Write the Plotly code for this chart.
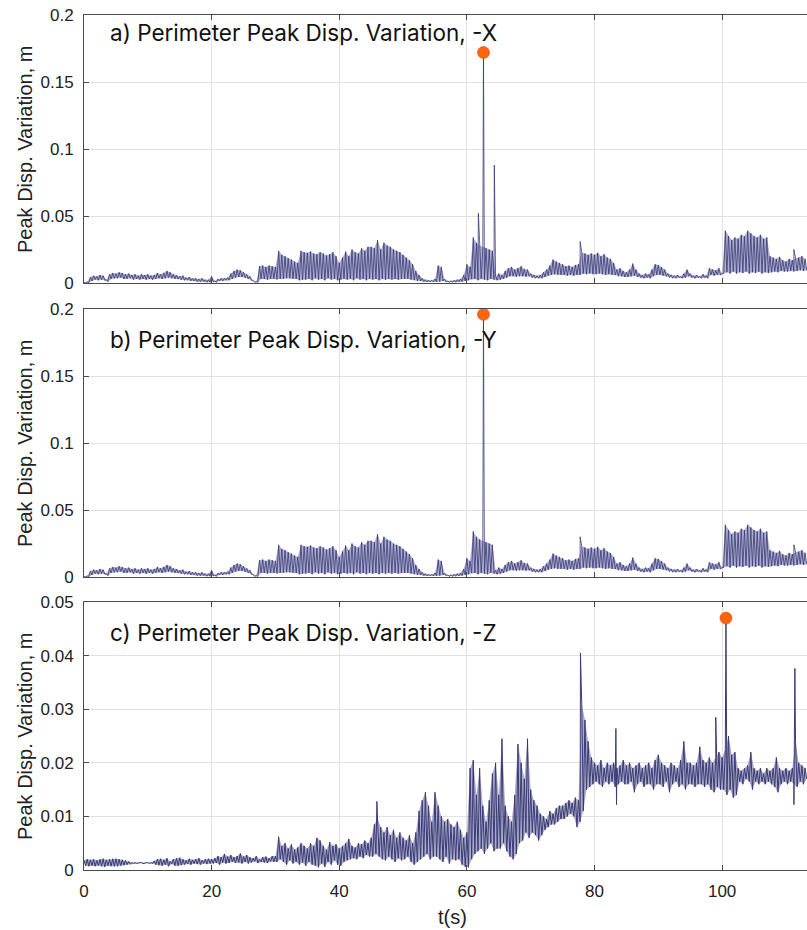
import numpy as np
import plotly.graph_objects as go

# sample grid (s): band maximum at t, band minimum at t + 0.25
T = np.round(np.arange(0, 113.001, 0.5), 2)

# ---- panel a (-X), values in mm ----
A_HI = [0.3, 0.8, 4.5, 5.5, 5.0, 6.0, 5.5, 2.5, 6.5, 7.5,
        7.0, 8.0, 7.5, 6.5, 7.0, 6.0, 6.5, 5.5, 6.5, 6.0,
        6.5, 5.5, 6.0, 7.5, 6.5, 7.5, 9.0, 8.0, 6.5, 6.0,
        5.0, 5.5, 4.0, 4.5, 3.5, 3.5, 3.0, 3.5, 2.5, 2.5,
        5.0, 1.5, 3.0, 3.5, 3.5, 4.0, 7.0, 9.0, 10.0, 9.5,
        8.0, 6.5, 5.0, 2.0, 1.0, 12.5, 13.0, 12.0, 13.0, 12.5,
        12.0, 24.0, 21.0, 20.0, 18.5, 17.5, 16.0, 15.0, 24.0, 23.0,
        22.5, 23.5, 22.0, 21.5, 23.0, 22.0, 20.5, 21.5, 23.0, 20.0,
        15.0, 19.0, 23.5, 20.0, 25.0, 23.0, 22.0, 26.0, 24.0, 27.0,
        27.0, 26.0, 32.0, 25.0, 30.0, 28.0, 27.0, 25.0, 24.0, 23.0,
        21.0, 19.0, 17.0, 14.0, 9.0, 6.0, 3.5, 2.5, 2.0, 2.0,
        3.0, 13.0, 12.0, 3.0, 1.5, 1.5, 2.0, 2.5, 3.0, 6.0,
        14.0, 12.0, 34.0, 30.0, 28.0, 27.0, 26.0, 25.0, 24.0, 5.0,
        7.0, 6.0, 9.0, 11.0, 12.0, 10.0, 11.0, 12.5, 10.5, 10.0,
        7.0, 6.0, 5.5, 6.0, 8.0, 10.0, 13.0, 17.5, 16.0, 15.0,
        14.0, 12.5, 13.0, 12.0, 13.5, 14.0, 23.0, 22.0, 21.0, 22.0,
        21.0, 22.5, 20.0, 21.5, 19.0, 18.0, 15.0, 10.0, 11.0, 9.0,
        8.0, 10.0, 14.5, 10.0, 7.0, 6.0, 7.0, 6.5, 10.0, 14.0,
        13.5, 12.0, 10.0, 7.0, 6.0, 5.5, 6.0, 5.0, 7.0, 10.0,
        7.0, 5.5, 6.0, 5.0, 6.5, 5.5, 11.0, 10.0, 9.5, 11.0,
        7.0, 39.0, 35.0, 32.0, 34.0, 33.0, 36.0, 35.0, 39.0, 37.0,
        35.0, 34.0, 36.0, 33.0, 34.0, 20.0, 19.0, 18.0, 19.5, 17.0,
        16.0, 18.0, 17.0, 18.5, 19.0, 20.0, 18.0]
A_LO = [0.0, 0.2, 1.5, 2.5, 2.0, 2.5, 2.0, 1.0, 3.0, 3.5,
        3.5, 4.0, 3.0, 3.0, 3.5, 2.5, 3.0, 2.5, 3.0, 2.5,
        3.0, 2.5, 3.0, 3.5, 3.0, 3.5, 4.0, 3.5, 3.0, 3.0,
        2.5, 2.0, 2.0, 1.5, 1.5, 1.0, 1.0, 1.0, 0.5, 0.5,
        1.0, 0.5, 1.5, 1.5, 2.0, 2.0, 3.0, 4.0, 4.5, 4.5,
        4.0, 3.0, 2.0, 0.5, 0.5, 3.0, 3.0, 2.5, 3.0, 3.0,
        2.5, 3.0, 3.0, 3.5, 3.5, 3.0, 3.0, 2.0, 2.5, 2.5,
        3.0, 2.0, 3.5, 2.5, 3.0, 2.0, 3.5, 2.5, 3.0, 2.0,
        2.5, 3.0, 2.5, 3.0, 2.0, 3.5, 2.5, 3.0, 2.0, 3.0,
        2.5, 3.0, 2.0, 3.0, 2.5, 3.0, 2.5, 3.0, 2.5, 3.0,
        3.0, 3.0, 2.5, 2.0, 1.5, 1.5, 1.0, 0.8, 0.8, 0.8,
        0.8, 1.0, 1.5, 0.8, 0.5, 0.5, 0.5, 0.8, 1.0, 1.5,
        2.0, 3.0, 3.0, 2.0, 3.0, 2.5, 2.0, 3.0, 2.5, 2.0,
        2.5, 3.0, 4.0, 5.0, 5.0, 4.5, 5.0, 5.0, 4.5, 5.0,
        4.0, 3.5, 3.5, 3.5, 4.5, 5.5, 6.0, 6.5, 6.0, 6.0,
        6.0, 5.5, 6.0, 5.5, 6.0, 6.0, 7.0, 6.5, 7.0, 6.5,
        6.5, 7.0, 6.5, 6.0, 6.5, 6.0, 6.0, 5.0, 5.0, 4.5,
        4.5, 5.0, 5.5, 4.5, 4.0, 3.5, 4.0, 3.5, 5.0, 6.0,
        6.0, 5.5, 5.0, 4.0, 3.5, 3.5, 4.0, 3.5, 4.0, 5.0,
        4.0, 3.5, 4.0, 3.5, 4.0, 3.5, 6.0, 5.5, 6.0, 6.0,
        7.0, 8.0, 7.0, 8.5, 7.0, 8.0, 7.5, 8.5, 7.0, 8.0,
        7.5, 8.5, 7.0, 8.0, 7.5, 8.0, 8.5, 8.0, 9.0, 8.5,
        8.5, 9.0, 8.5, 9.0, 9.5, 9.0, 9.5]
A_SPIKE_T = [61.8, 62.6, 64.3, 77.75, 111.25]
A_SPIKE_V = [52.0, 172.0, 88.0, 31.0, 25.0]

# ---- panel b (-Y): the band reads the same as panel a; spikes differ ----
B_HI = list(A_HI)
B_LO = list(A_LO)
B_SPIKE_T = [62.6, 77.75, 111.25]
B_SPIKE_V = [196.0, 30.0, 24.0]

# ---- panel c (-Z), values in mm ----
C_HI = [1.8, 2.0, 1.9, 2.0, 1.8, 2.0, 2.1, 1.9, 2.0, 2.1,
        2.1, 2.0, 1.9, 1.8, 1.6, 1.4, 1.4, 1.3, 1.4, 1.3,
        1.4, 1.4, 1.7, 2.0, 2.1, 1.9, 2.2, 1.6, 2.0, 2.2,
        2.3, 2.0, 1.8, 2.1, 1.9, 2.0, 2.2, 1.8, 2.0, 2.1,
        2.0, 2.2, 2.6, 2.4, 3.0, 2.5, 2.8, 2.4, 2.6, 3.1,
        2.5, 2.8, 2.4, 2.2, 2.6, 2.0, 2.4, 2.5, 2.2, 2.6,
        2.6, 6.2, 4.5, 5.0, 4.0, 4.8, 3.8, 4.2, 5.0, 4.5,
        4.0, 5.0, 4.5, 6.0, 5.5, 4.5, 3.8, 5.2, 4.5, 4.8,
        4.0, 4.5, 5.0, 5.8, 4.5, 4.2, 5.0, 4.8, 5.5, 5.0,
        6.0, 8.5, 9.5, 8.0, 7.0, 8.0, 6.5, 7.5, 6.0, 7.0,
        6.0, 5.5, 6.5, 5.0, 7.0, 11.0, 13.0, 14.5, 12.0, 9.0,
        14.5, 12.0, 10.0, 9.0, 9.5, 8.5, 8.0, 9.0, 7.5, 6.0,
        7.0, 19.0, 20.5, 14.0, 19.0, 12.0, 9.0, 13.0, 18.0, 20.0,
        14.0, 24.5, 12.0, 10.0, 9.0, 14.0, 23.5, 20.0, 17.0, 24.5,
        15.0, 13.0, 12.0, 10.5, 10.0, 9.5, 11.0, 10.5, 11.5, 12.0,
        12.0, 12.5, 13.0, 12.5, 13.5, 13.0, 31.0, 28.0, 24.0, 21.0,
        20.0, 19.5, 20.5, 19.0, 20.0, 19.5, 20.0, 19.0, 19.5, 20.5,
        19.5, 20.0, 19.0, 19.5, 20.0, 19.0, 19.5, 20.0, 19.0, 20.5,
        21.5, 20.0, 19.5, 19.0, 20.0, 19.5, 19.0, 20.5, 24.0, 20.0,
        20.0, 19.5, 20.0, 23.0, 20.5, 20.0, 21.0, 20.0, 21.0, 22.0,
        21.0, 22.5, 25.0, 21.5, 22.0, 19.0, 18.5, 19.0, 19.5, 22.0,
        19.0, 18.5, 19.0, 18.0, 19.0, 18.5, 19.0, 21.0, 19.0, 18.5,
        19.0, 18.5, 19.0, 24.0, 20.0, 19.5, 19.0]
C_LO = [0.8, 0.7, 0.8, 0.7, 0.8, 0.7, 0.6, 0.8, 0.7, 0.7,
        0.7, 0.8, 0.9, 1.0, 1.1, 1.2, 1.2, 1.3, 1.2, 1.3,
        1.2, 1.2, 1.0, 0.9, 0.8, 1.0, 0.7, 1.1, 0.8, 0.8,
        0.9, 1.0, 1.1, 1.0, 1.2, 1.1, 1.0, 1.2, 1.1, 1.2,
        1.2, 1.3, 1.0, 1.4, 1.2, 1.3, 1.5, 1.3, 1.4, 1.2,
        1.5, 1.2, 1.4, 1.6, 1.3, 1.5, 1.4, 1.3, 1.6, 1.5,
        1.5, 2.0, 1.5, 1.0, 1.8, 1.2, 1.5, 1.0, 1.4, 0.8,
        1.5, 1.0, 0.8, 0.5, 1.2, 0.6, 1.5, 1.0, 1.8, 1.0,
        0.8, 1.5, 1.8, 2.0, 2.2, 2.0, 2.5, 2.2, 2.8, 2.5,
        2.5, 3.0, 2.5, 2.0, 1.8, 2.5, 2.0, 1.5, 2.2, 1.8,
        2.0, 2.5, 1.5, 1.0, 1.5, 2.0, 2.5, 3.0, 2.0, 2.5,
        2.5, 2.0, 1.5, 2.5, 1.2, 2.0, 1.8, 2.0, 1.0, 0.6,
        0.5, 2.0, 3.0, 3.5, 4.0, 3.0, 4.0, 5.0, 3.5, 4.0,
        4.0, 5.0, 3.5, 2.5, 2.0, 3.0, 5.0, 5.5, 7.0, 6.0,
        7.0, 6.5, 5.5, 6.5, 7.5, 8.0, 8.5, 8.5, 9.0, 9.5,
        9.5, 10.0, 10.5, 10.0, 8.0, 9.0, 11.0, 15.0, 15.5, 16.0,
        16.5, 16.0, 15.5, 16.5, 16.0, 16.5, 15.5, 16.0, 16.5, 16.0,
        16.0, 16.5, 14.5, 16.0, 16.5, 15.5, 16.0, 16.0, 15.0, 16.0,
        16.0, 15.5, 16.5, 14.5, 16.0, 16.5, 15.5, 16.0, 15.0, 16.0,
        16.0, 15.5, 16.0, 16.0, 15.5, 16.0, 15.0, 14.5, 15.5, 15.0,
        15.0, 14.0, 15.0, 13.5, 14.0, 16.5, 16.0, 17.0, 16.5, 15.0,
        16.5, 16.0, 16.5, 16.0, 16.5, 16.0, 15.5, 14.5, 16.0, 16.5,
        16.0, 16.5, 16.0, 15.5, 16.5, 16.0, 17.0]
C_SPIKE_T = [45.9, 77.8, 83.35, 83.45, 99.0, 100.6, 111.25, 111.4]
C_SPIKE_V = [12.8, 40.5, 26.4, 12.2, 28.5, 47.0, 12.2, 37.6]

# peak markers (t, value in m)
PEAK_T = [62.6, 62.6, 100.6]
PEAK_V = [0.172, 0.196, 0.047]

TITLES = ["a) Perimeter Peak Disp. Variation, -X",
          "b) Perimeter Peak Disp. Variation, -Y",
          "c) Perimeter Peak Disp. Variation, -Z"]
Y_LABEL = "Peak Disp. Variation, m"
X_LABEL = "t(s)"
X_TICKS = [0, 20, 40, 60, 80, 100]


def build(hi, lo, st, sv):
    assert len(hi) == len(T) and len(lo) == len(T)
    pts = []
    for t, h, l in zip(T, hi, lo):
        pts.append((float(t), h))
        pts.append((float(t) + 0.25, l))
    pts += list(zip(st, sv))
    pts.sort(key=lambda p: p[0])
    return [p[0] for p in pts], [p[1] / 1000.0 for p in pts]


raw = [(A_HI, A_LO, A_SPIKE_T, A_SPIKE_V),
       (B_HI, B_LO, B_SPIKE_T, B_SPIKE_V),
       (C_HI, C_LO, C_SPIKE_T, C_SPIKE_V)]

LINE = "#3a3a76"
FILLS = ["rgba(120,120,176,0.6)", "rgba(120,120,176,0.6)", "rgba(90,90,145,0.5)"]
WIDTHS = [0.8, 0.8, 1.0]
fig = go.Figure()
for i, (hi, lo, st, sv) in enumerate(raw):
    sfx = "" if i == 0 else str(i + 1)
    ax = dict(xaxis="x" + sfx, yaxis="y" + sfx, showlegend=False, hoverinfo="skip")
    # band body between the maxima and minima
    fig.add_trace(go.Scatter(x=list(T), y=[v / 1000.0 for v in hi], mode="lines",
                             line=dict(width=0, color=LINE), **ax))
    fig.add_trace(go.Scatter(x=[float(t) + 0.25 for t in T], y=[v / 1000.0 for v in lo],
                             mode="lines", line=dict(width=0, color=LINE),
                             fill="tonexty", fillcolor=FILLS[i], **ax))
    xs, ys = build(hi, lo, st, sv)
    fig.add_trace(go.Scatter(x=xs, y=ys, mode="lines",
                             line=dict(color=LINE, width=WIDTHS[i]), **ax))
    fig.add_trace(go.Scatter(x=[PEAK_T[i]], y=[PEAK_V[i]], mode="markers",
                             marker=dict(size=12, color="#ff6410",
                                         line=dict(width=0.6, color="#e24e00")),
                             **ax))

# layout in pixels: panels at y 15-283, 309-577, 602-870; plot area 84..807
H_PLOT = 855.0
doms = [[(870 - 283) / H_PLOT, 1.0],
        [(870 - 577) / H_PLOT, (870 - 309) / H_PLOT],
        [0.0, (870 - 602) / H_PLOT]]
yranges = [[0, 0.2], [0, 0.2], [0, 0.05]]
ydticks = [0.05, 0.05, 0.01]

TICKFONT = dict(family="Liberation Sans, Arial, sans-serif", size=17, color="#222222")
layout = dict(width=807, height=930, margin=dict(l=84, r=0, t=15, b=60),
              paper_bgcolor="white", plot_bgcolor="white", showlegend=False)
annotations = []
for i in range(3):
    sfx = "" if i == 0 else str(i + 1)
    layout["xaxis" + sfx] = dict(
        domain=[0, 1], anchor="y" + sfx, range=[0, 113.3],
        tickvals=X_TICKS, showticklabels=(i == 2), ticks="inside", ticklen=5,
        tickcolor="#4a4a4a", showline=True, linecolor="#4a4a4a", linewidth=1,
        mirror="ticks", showgrid=True, gridcolor="#e2e2e2", gridwidth=1,
        zeroline=False, tickfont=TICKFONT, ticklabelstandoff=6)
    layout["yaxis" + sfx] = dict(
        domain=doms[i], anchor="x" + sfx, range=yranges[i], dtick=ydticks[i],
        tick0=0, ticks="inside", ticklen=5, tickcolor="#4a4a4a",
        showline=True, linecolor="#4a4a4a", linewidth=1, mirror=False,
        showgrid=True, gridcolor="#e2e2e2", gridwidth=1, zeroline=False,
        tickfont=TICKFONT, ticklabelstandoff=6)
    title_y = [1 - 17 / 268, 1 - 31 / 268, 1 - 30 / 268][i]
    annotations.append(dict(text=TITLES[i], xref="x" + sfx + " domain",
                            yref="y" + sfx + " domain", x=24 / 723, y=title_y,
                            xanchor="left", yanchor="middle", showarrow=False,
                            font=dict(family="Inter, sans-serif", size=22.5,
                                      color="#111111")))
    annotations.append(dict(text=Y_LABEL, xref="paper", yref="y" + sfx + " domain",
                            x=(25 - 84) / 723, y=0.5, xanchor="center",
                            yanchor="middle", textangle=-90, showarrow=False,
                            font=dict(family="Liberation Sans, Arial, sans-serif",
                                      size=20, color="#222222")))
annotations.append(dict(text=X_LABEL, xref="paper", yref="paper",
                        x=(452 - 84) / 723, y=-(917 - 870) / H_PLOT,
                        xanchor="center", yanchor="middle", showarrow=False,
                        font=dict(family="Liberation Sans, Arial, sans-serif",
                                  size=20, color="#222222")))
layout["annotations"] = annotations
fig.update_layout(**layout)
fig.write_html("out.html")
